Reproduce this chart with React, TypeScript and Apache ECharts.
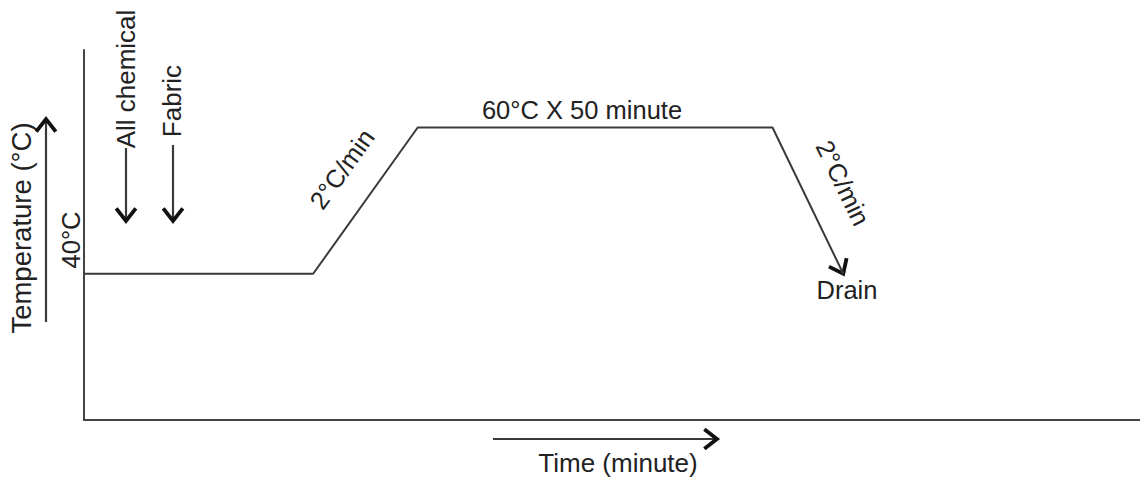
import React, { useEffect, useRef } from "react";
import * as echarts from "echarts";

// Schematic dyeing profile (time in arbitrary schematic units, temperature in °C)
const timePoints = [0, 21.7, 31.6, 65.2, 71.9];
const temperatures = [40, 40, 60, 60, 40];

const xAxisName = "Time (minute)";
const yAxisName = "Temperature (°C)";
const startTempLabel = "40°C";
const holdLabel = "60°C X 50 minute";
const rampUpLabel = "2°C/min";
const rampDownLabel = "2°C/min";
const drainLabel = "Drain";
const chemicalLabel = "All chemical";
const fabricLabel = "Fabric";

const FAMILY = '"Liberation Sans", Arial, sans-serif';
const TEXT_COLOR = "#222";
const LINE_COLOR = "#3a3a3a";
const HEAD_COLOR = "#111";

function chevron(tx: number, ty: number, angle: number, len = 16, spread = 0.66) {
  const a1 = angle + Math.PI - spread;
  const a2 = angle + Math.PI + spread;
  return {
    type: "polyline",
    shape: {
      points: [
        [tx + len * Math.cos(a1), ty + len * Math.sin(a1)],
        [tx, ty],
        [tx + len * Math.cos(a2), ty + len * Math.sin(a2)],
      ],
    },
    style: { stroke: HEAD_COLOR, lineWidth: 3.8, fill: null, lineJoin: "miter", lineCap: "butt" },
    silent: true,
  };
}

function shaft(x1: number, y1: number, x2: number, y2: number) {
  return {
    type: "line",
    shape: { x1, y1, x2, y2 },
    style: { stroke: LINE_COLOR, lineWidth: 2.2 },
    silent: true,
  };
}

function label(text: string, x: number, y: number, rotation = 0, size = 25.5) {
  return {
    type: "text",
    x,
    y,
    rotation,
    style: {
      text,
      x: 0,
      y: 0,
      align: "center",
      verticalAlign: "middle",
      font: `${size}px ${FAMILY}`,
      fill: TEXT_COLOR,
    },
    silent: true,
  };
}

export default function App() {
  const ref = useRef<HTMLDivElement>(null);

  useEffect(() => {
    document.body.style.margin = "0";
    if (!ref.current) return;
    const chart = echarts.init(ref.current, null, { renderer: "svg" });

    const data = timePoints.map((t, i) => [t, temperatures[i]]);

    chart.setOption({
      animation: false,
      backgroundColor: "#ffffff",
      grid: { left: 84, right: 0, top: 50, bottom: 61 },
      xAxis: {
        type: "value",
        min: 0,
        max: 100,
        axisLine: { show: true, lineStyle: { color: "#444", width: 2 } },
        axisTick: { show: false },
        axisLabel: { show: false },
        splitLine: { show: false },
      },
      yAxis: {
        type: "value",
        min: 20,
        max: 70.6,
        axisLine: { show: true, lineStyle: { color: "#444", width: 2 } },
        axisTick: { show: false },
        axisLabel: { show: false },
        splitLine: { show: false },
      },
      series: [
        {
          type: "line",
          data,
          showSymbol: false,
          lineStyle: { color: LINE_COLOR, width: 2 },
          silent: true,
        },
      ],
    });

    const n = data.length;
    const pEnd = chart.convertToPixel({ gridIndex: 0 }, data[n - 1]) as number[];
    const pPrev = chart.convertToPixel({ gridIndex: 0 }, data[n - 2]) as number[];
    const drainAngle = Math.atan2(pEnd[1] - pPrev[1], pEnd[0] - pPrev[0]);

    const down = Math.PI / 2;
    const up = -Math.PI / 2;

    const graphic: any[] = [
      // y axis name + arrow
      label(yAxisName, 21, 228, Math.PI / 2, 27.5),
      shaft(46, 322, 46, 120),
      chevron(46, 119, up),
      // 40°C
      label(startTempLabel, 71, 240, Math.PI / 2),
      // All chemical
      label(chemicalLabel, 126, 79, Math.PI / 2, 26),
      shaft(126, 148, 126, 220),
      chevron(126, 221, down),
      // Fabric
      label(fabricLabel, 172, 101, Math.PI / 2, 26),
      shaft(173, 145, 173, 220),
      chevron(173, 221, down),
      // ramp up label
      label(rampUpLabel, 342, 169, 0.948),
      // hold label
      label(holdLabel, 582, 110, 0),
      // ramp down label
      label(rampDownLabel, 843, 183, -1.117),
      // drain arrow head + label
      chevron(pEnd[0], pEnd[1], drainAngle),
      label(drainLabel, 847, 290, 0),
      // time axis arrow + name
      shaft(493, 439, 716, 439),
      chevron(717, 439, 0),
      label(xAxisName, 618, 463, 0, 26),
    ];

    chart.setOption({ graphic });

    return () => {
      chart.dispose();
    };
  }, []);

  return (
    <div
      ref={ref}
      style={{ position: "fixed", left: 0, top: 0, width: 1140, height: 481, background: "#fff" }}
    />
  );
}
